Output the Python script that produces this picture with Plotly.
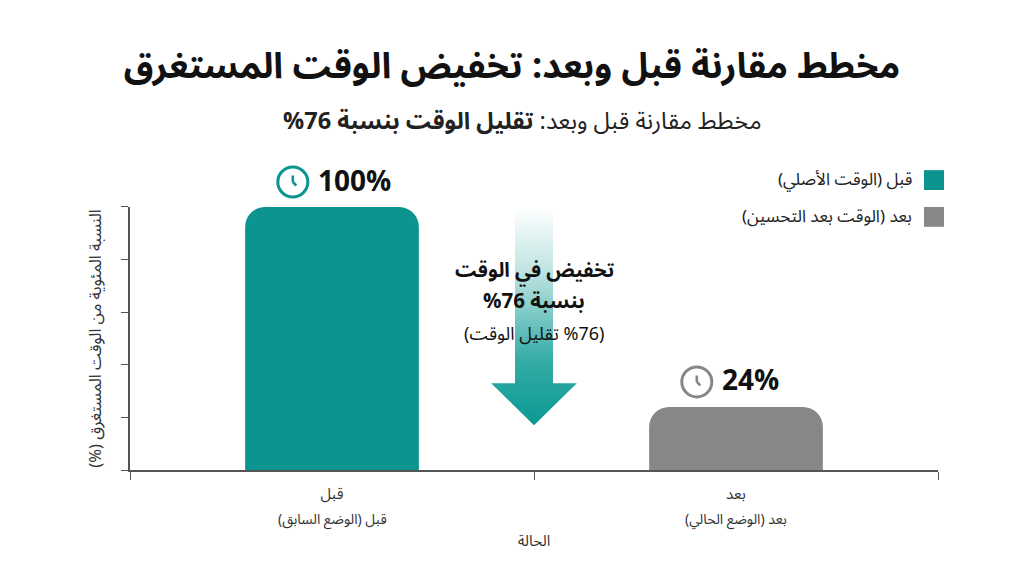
import plotly.graph_objects as go

# data
categories = ["قبل", "بعد"]
category_notes = ["قبل (الوضع السابق)", "بعد (الوضع الحالي)"]
time_pct = [100, 24]
legend_names = ["قبل (الوقت الأصلي)", "بعد (الوقت بعد التحسين)"]
bar_colors = ["#0b9490", "#878787"]
y_ticks = [0, 20, 40, 60, 80, 100]

reduction = time_pct[0] - time_pct[1]
font = "Noto Sans Arabic, DejaVu Sans, sans-serif"
RLE, PDF, RLM = "\u202b", "\u202c", "\u200f"


def rtl(s):
    return RLE + s + PDF


pct_rtl = f"{reduction}{RLM}%"

# main y axis only covers the lower part of the plot area, decorations use y2 with same units
y_dom = 0.8219
y2_top = time_pct[0] / y_dom

fig = go.Figure()

fig.add_trace(go.Bar(
    x=categories,
    y=time_pct,
    marker=dict(color=bar_colors, line=dict(width=0)),
    width=0.43,
    showlegend=False,
    hoverinfo="skip",
))

# gradient arrow between the two bars
mid = 0.5
shaft = 0.047
head = 0.106
top = time_pct[0]
base = time_pct[1] + 9
tip = time_pct[1] - 7
fig.add_trace(go.Scatter(
    x=[mid - shaft, mid + shaft, mid + shaft, mid + head, mid, mid - head, mid - shaft, mid - shaft],
    y=[top, top, base, base, tip, base, base, top],
    xaxis="x2", yaxis="y2",
    mode="lines",
    line=dict(width=0),
    fill="toself",
    fillgradient=dict(type="vertical",
                      colorscale=[[0, "#0b9893"], [0.3, "#35aca7"], [0.7, "#bde3e1"], [1, "#ffffff"]],
                      start=tip, stop=top),
    showlegend=False,
    hoverinfo="skip",
))

# clock icons above the bars
clock_x = [i - 0.097 for i in range(len(categories))]
clock_y = [v + 9.5 for v in time_pct]
fig.add_trace(go.Scatter(
    x=clock_x,
    y=clock_y,
    xaxis="x2", yaxis="y2",
    mode="markers",
    marker=dict(symbol="circle-open", size=30, color=bar_colors, line=dict(width=3, color=bar_colors)),
    cliponaxis=False,
    showlegend=False,
    hoverinfo="skip",
))

annotations = []
for cx, cy, v, col in zip(clock_x, clock_y, time_pct, bar_colors):
    for ax, ay in [(0, -8), (5, 5)]:
        annotations.append(dict(
            x=cx, y=cy, xref="x2", yref="y2", text="", showarrow=True,
            ax=ax, ay=ay, arrowhead=0, arrowwidth=2.6, arrowcolor=col, standoff=0, startstandoff=0,
        ))
    annotations.append(dict(
        x=cx, y=cy, xref="x2", yref="y2", text=f"<b>{v}%</b>", showarrow=False,
        xanchor="left", yanchor="middle", xshift=23,
        font=dict(size=28, color="#111111", family=font),
    ))

# text over the arrow, one annotation per line
arrow_lines = [
    (f"<b>{rtl('تخفيض في الوقت')}</b>", 20, 31),
    (f"<b>{rtl('بنسبة ' + pct_rtl)}</b>", 20.5, 0),
    (rtl("(" + pct_rtl + " تقليل الوقت)"), 18, -32),
]
for txt, size, shift in arrow_lines:
    annotations.append(dict(
        x=mid, y=(time_pct[0] + time_pct[1]) / 2 + 2, xref="x2", yref="y2", showarrow=False,
        text=txt, yshift=shift, yanchor="middle",
        font=dict(size=size, color="#111111", family=font),
    ))

# second line of the category labels
for cat, note in zip(categories, category_notes):
    annotations.append(dict(
        x=cat, y=-0.156, xref="x", yref="paper", showarrow=False, yanchor="middle",
        text=rtl(note), font=dict(size=14, color="#333333", family=font),
    ))

# subtitle
annotations.append(dict(
    x=0.486, y=1.0906, xref="paper", yref="paper", showarrow=False,
    xanchor="center", yanchor="middle",
    text=RLE + f"مخطط مقارنة قبل وبعد: <b>تقليل الوقت بنسبة {pct_rtl}</b>" + PDF,
    font=dict(size=23.5, color="#222222", family=font),
))

# legend drawn on the right, square after the text
shapes = []
for k, (name, col) in enumerate(zip(legend_names, bar_colors)):
    yc = 0.906 - k * 0.115
    shapes.append(dict(type="rect", xref="paper", yref="paper",
                       x0=0.9827, x1=1.0074, y0=yc - 0.031, y1=yc + 0.031,
                       fillcolor=col, line=dict(width=0)))
    annotations.append(dict(
        x=0.97, y=yc, xref="paper", yref="paper", showarrow=False,
        xanchor="right", yanchor="middle", text=rtl(name),
        font=dict(size=17, color="#222222", family=font),
    ))

fig.update_layout(
    width=1024,
    height=572,
    margin=dict(l=130, r=86, t=150, b=102),
    paper_bgcolor="white",
    plot_bgcolor="rgba(0,0,0,0)",
    title=dict(
        text="<b>مخطط مقارنة قبل وبعد: تخفيض الوقت المستغرق</b>",
        x=0.5, xanchor="center", y=0.885, yanchor="middle",
        font=dict(size=36, color="#111111", family=font),
    ),
    xaxis=dict(
        type="category",
        categoryorder="array",
        categoryarray=categories,
        tickvals=categories,
        ticktext=categories,
        tickson="boundaries",
        ticks="outside",
        ticklen=8,
        tickcolor="#555555",
        ticklabelstandoff=9,
        showline=True,
        linecolor="#555555",
        linewidth=1.5,
        showgrid=False,
        tickfont=dict(size=15, color="#333333", family=font),
        title=dict(text="الحالة", font=dict(size=15, color="#333333", family=font), standoff=27),
        range=[-0.5, 1.5],
        automargin=False,
        fixedrange=True,
    ),
    yaxis=dict(
        domain=[0, y_dom],
        range=[0, time_pct[0]],
        tickvals=y_ticks,
        showticklabels=False,
        ticks="outside",
        ticklen=7,
        tickcolor="#555555",
        showline=True,
        linecolor="#555555",
        linewidth=1.5,
        showgrid=False,
        zeroline=False,
        title=dict(text=rtl("النسبة المئوية من الوقت المستغرق (%)"),
                   font=dict(size=16.5, color="#333333", family=font), standoff=15),
        automargin=False,
        fixedrange=True,
    ),
    xaxis2=dict(domain=[0, 1], anchor="y2", range=[-0.5, 1.5], visible=False, fixedrange=True),
    yaxis2=dict(domain=[0, 1], anchor="x2", range=[0, y2_top], visible=False, fixedrange=True),
    barcornerradius=20,
    annotations=annotations,
    shapes=shapes,
    showlegend=False,
)

# drop the default page margin so the figure sits at the window corner
fig.write_html("out.html", config={"displayModeBar": False},
               post_script="document.body.style.margin='0';")
